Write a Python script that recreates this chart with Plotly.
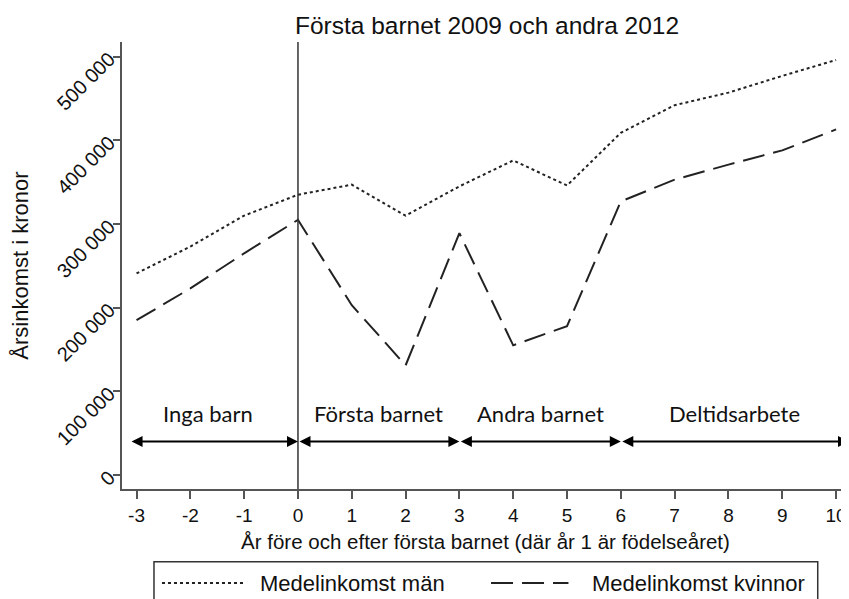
import plotly.graph_objects as go

years = [-3, -2, -1, 0, 1, 2, 3, 4, 5, 6, 7, 8, 9, 10]
year_labels = ["-3", "-2", "-1", "0", "1", "2", "3", "4", "5", "6", "7", "8", "9", "10"]
men = [241000, 273000, 310000, 335000, 347000, 310000, 345000, 376000, 346000, 409000, 442000, 457000, 477000, 496000]
women = [185000, 223000, 265000, 305000, 203000, 131000, 289000, 155000, 178000, 327000, 353000, 371000, 388000, 413000]
y_ticks = [0, 100000, 200000, 300000, 400000, 500000]
y_tick_labels = ["0", "100 000", "200 000", "300 000", "400 000", "500 000"]
periods = ["Inga barn", "Första barnet", "Andra barnet", "Deltidsarbete"]
period_start = [-3.12, 0, 3, 6]
period_end = [0, 3, 6, 10.24]
series_names = ["Medelinkomst män", "Medelinkomst kvinnor"]

MEN_DASH = "3px,3px"
WOMEN_DASH = "22px,9px"

fig = go.Figure()
fig.add_trace(go.Scatter(x=years, y=men, mode="lines", name=series_names[0], showlegend=False,
                         line=dict(color="#222222", width=2, dash=MEN_DASH)))
fig.add_trace(go.Scatter(x=years, y=women, mode="lines", name=series_names[1], showlegend=False,
                         line=dict(color="#222222", width=2, dash=WOMEN_DASH)))

# reference line at year 0
fig.add_shape(type="line", x0=0, x1=0, xref="x", y0=0, y1=1, yref="paper",
              line=dict(color="#333333", width=1.5))

# period arrows and labels
arrow_y = 40000
label_y = 73000
for name, s, e in zip(periods, period_start, period_end):
    fig.add_annotation(x=e, y=arrow_y, ax=s, ay=arrow_y, xref="x", yref="y", axref="x", ayref="y",
                       showarrow=True, arrowhead=2, startarrowhead=2, arrowside="end+start",
                       arrowsize=1.1, startarrowsize=1.1, arrowwidth=2, arrowcolor="black", text="")
    fig.add_annotation(x=(s + e) / 2 - (0.12 if name == "Inga barn" else 0), y=label_y,
                       xref="x", yref="y", text=name, showarrow=False,
                       font=dict(family="Lato, Open Sans, sans-serif", size=22, color="#111111"))

# legend box drawn below the plot (paper coordinates)
fig.add_shape(type="rect", xref="paper", yref="paper", x0=0.044, x1=0.957, y0=-0.32, y1=-0.163,
              line=dict(color="#333333", width=1.5), fillcolor="rgba(0,0,0,0)")
leg_y = -0.2103
fig.add_shape(type="line", xref="paper", yref="paper", x0=0.0550, x1=0.1692, y0=leg_y, y1=leg_y,
              line=dict(color="#222222", width=2, dash=MEN_DASH))
fig.add_shape(type="line", xref="paper", yref="paper", x0=0.5076, x1=0.6141, y0=leg_y, y1=leg_y,
              line=dict(color="#222222", width=2, dash=WOMEN_DASH))
fig.add_annotation(xref="paper", yref="paper", x=0.1871, y=leg_y, xanchor="left", yanchor="middle",
                   text=series_names[0], showarrow=False, font=dict(size=22))
fig.add_annotation(xref="paper", yref="paper", x=0.6437, y=leg_y, xanchor="left", yanchor="middle",
                   text=series_names[1], showarrow=False, font=dict(size=22))

# the page adds an 8px body margin, so the figure is 8px smaller on each axis
fig.update_layout(
    width=841, height=591,
    margin=dict(l=114, r=0, t=34, b=110, autoexpand=False),
    paper_bgcolor="white", plot_bgcolor="white",
    font=dict(family="Liberation Sans, Arial, sans-serif", size=18, color="#111111"),
    title=dict(text="Första barnet 2009 och andra 2012", x=0.5696, xanchor="center",
               y=0.9712, yanchor="middle", font=dict(size=24.5)),
    showlegend=False,
    xaxis=dict(range=[-3.27, 10.24], tickmode="array", tickvals=years, ticktext=year_labels,
               ticks="outside", ticklen=8, tickcolor="#555555", tickwidth=1.5,
               tickfont=dict(size=19),
               showline=True, linecolor="#555555", linewidth=1.5,
               showgrid=False, zeroline=False, automargin=False,
               title=dict(text="År före och efter första barnet (där år 1 är födelseåret)",
                          standoff=10, font=dict(size=20.5))),
    yaxis=dict(range=[-16700, 517500], tickmode="array", tickvals=y_ticks, ticktext=y_tick_labels,
               tickangle=-45, ticks="outside", ticklen=7, tickcolor="#555555", tickwidth=1.5,
               tickfont=dict(size=20),
               showline=True, linecolor="#555555", linewidth=1.5, showgrid=False, zeroline=False,
               automargin=False,
               title=dict(text="Årsinkomst i kronor", standoff=19, font=dict(size=22))),
)

fig.write_html("out.html")
